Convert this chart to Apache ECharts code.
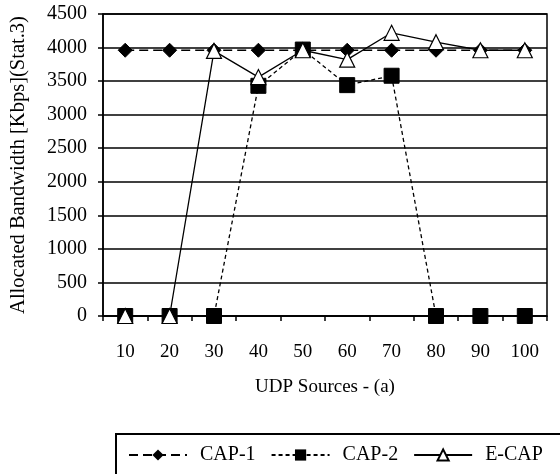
<!DOCTYPE html>
<html>
<head>
<meta charset="utf-8">
<script src="https://cdn.jsdelivr.net/npm/echarts@6/dist/echarts.min.js"></script>
<style>
  html, body { margin: 0; padding: 0; background: #fff; }
  #chart { width: 560px; height: 474px; }
</style>
</head>
<body>
<div id="chart"></div>
<script>
var sources = ['10', '20', '30', '40', '50', '60', '70', '80', '90', '100'];
var cap1 = [3960, 3960, 3960, 3960, 3960, 3960, 3960, 3960, 3960, 3960];
var cap2 = [0, 0, 0, 3430, 3970, 3440, 3580, 0, 0, 0];
var ecap = [0, 0, 3950, 3560, 3960, 3820, 4220, 4080, 3960, 3960];

var font = 'Liberation Serif, Times New Roman, serif';
var myChart = echarts.init(document.getElementById('chart'));
var option = {
    backgroundColor: '#fff',
    animation: false,
    textStyle: { fontFamily: font, color: '#000' },
    grid: {
        left: 100, right: 13, top: 14, bottom: 158,
        show: true, borderColor: '#000', borderWidth: 1.5
    },
    legend: {
        left: 123, top: 440,
        itemWidth: 58, itemHeight: 14, itemGap: 15,
        textStyle: { fontFamily: font, fontSize: 20, color: '#000', padding: [0, 0, 0, 8] },
        data: ['CAP-1', 'CAP-2', 'E-CAP']
    },
    graphic: [{
        type: 'rect',
        shape: { x: 116, y: 434, width: 470, height: 70 },
        style: { fill: 'none', stroke: '#000', lineWidth: 2 },
        silent: true
    }],
    xAxis: {
        type: 'category',
        data: sources,
        boundaryGap: true,
        name: 'UDP Sources - (a)',
        nameLocation: 'middle',
        nameGap: 62,
        nameTextStyle: { fontFamily: font, fontSize: 19, color: '#000' },
        axisLine: { lineStyle: { color: '#000', width: 1.5 } },
        axisTick: { show: true, length: 5, lineStyle: { color: '#000', width: 1.5 } },
        axisLabel: { fontFamily: font, fontSize: 19, color: '#000', margin: 27 }
    },
    yAxis: {
        type: 'value',
        min: 0, max: 4500, interval: 500,
        name: 'Allocated Bandwidth [Kbps](Stat.3)',
        nameLocation: 'middle',
        nameGap: 74,
        nameTextStyle: { fontFamily: font, fontSize: 20.5, color: '#000' },
        axisLine: { show: true, lineStyle: { color: '#000', width: 1.5 } },
        axisTick: { show: true, length: 5, lineStyle: { color: '#000', width: 1.5 } },
        splitLine: { show: true, lineStyle: { color: '#000', width: 1.5 } },
        axisLabel: {
            fontFamily: font, fontSize: 20, color: '#000', margin: 16,
            formatter: function (v) { return String(v); }
        }
    },
    series: [
        {
            name: 'CAP-1', type: 'line', data: cap1,
            symbol: 'diamond', symbolSize: 14,
            lineStyle: { color: '#000', width: 1.5, type: [9, 5] },
            itemStyle: { color: '#000', borderColor: '#000' },
            z: 2
        },
        {
            name: 'CAP-2', type: 'line', data: cap2,
            symbol: 'rect', symbolSize: 15,
            lineStyle: { color: '#000', width: 1.3, type: [4, 3] },
            itemStyle: { color: '#000', borderColor: '#000' },
            z: 3
        },
        {
            name: 'E-CAP', type: 'line', data: ecap,
            symbol: 'triangle', symbolSize: 15, showAllSymbol: true,
            lineStyle: { color: '#000', width: 1.3, type: 'solid' },
            itemStyle: { color: '#fff', borderColor: '#000', borderWidth: 1.2 },
            z: 4
        }
    ]
};
myChart.setOption(option);
</script>
</body>
</html>
